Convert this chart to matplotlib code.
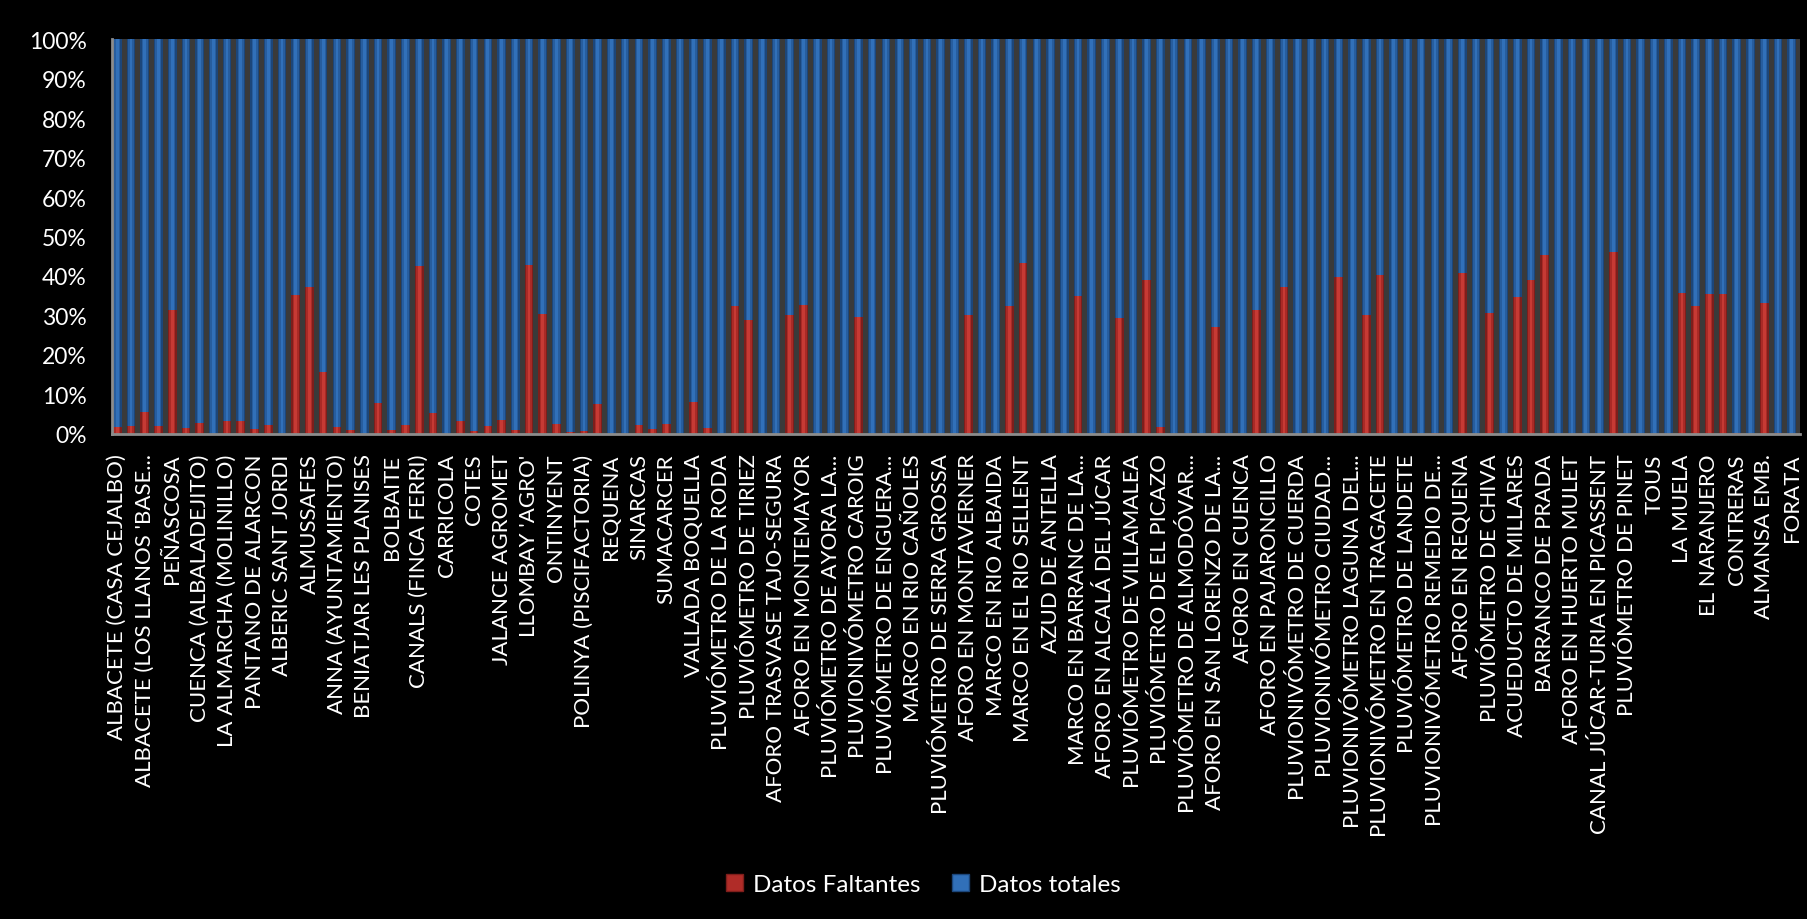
import matplotlib.pyplot as plt
from matplotlib.patches import Patch
from matplotlib.ticker import PercentFormatter
import numpy as np

# porcentaje de datos faltantes por estación (una barra por estación)
faltantes = [1.8, 2.0, 5.6, 1.9, 31.4, 1.5, 2.8, 0, 3.3, 3.3,
             1.3, 2.3, 0, 35.2, 37.2, 15.7, 1.8, 1.0, 0, 7.8,
             0.9, 2.3, 42.5, 5.3, 0, 3.3, 0.8, 2.0, 3.5, 0.9,
             42.9, 30.5, 2.5, 0.5, 0.8, 7.6, 0, 0, 2.3, 1.3,
             2.5, 0, 8.1, 1.5, 0, 32.5, 28.9, 0, 0, 30.2,
             32.7, 0, 0, 0, 29.7, 0, 0, 0, 0, 0,
             0, 0, 30.2, 0, 0, 32.4, 43.4, 0, 0, 0,
             34.9, 0, 0, 29.4, 0, 39.0, 1.8, 0, 0, 0,
             27.2, 0, 0, 31.4, 0, 37.3, 0, 0, 0, 39.8,
             0, 30.0, 40.3, 0, 0, 0, 0.3, 0, 40.8, 0,
             30.7, 0, 34.8, 39.0, 45.4, 0, 0, 0, 0, 46.1,
             0, 0, 0, 0, 35.7, 32.4, 35.4, 35.4, 0.3, 0,
             33.2, 0.3, 0]

# solo se rotula una de cada dos estaciones
etiquetas = [
    "ALBACETE (CASA CEJALBO)", "ALBACETE (LOS LLANOS 'BASE...", "PEÑASCOSA",
    "CUENCA (ALBALADEJITO)", "LA ALMARCHA (MOLINILLO)", "PANTANO DE ALARCON",
    "ALBERIC SANT JORDI", "ALMUSSAFES", "ANNA (AYUNTAMIENTO)",
    "BENIATJAR LES PLANISES", "BOLBAITE", "CANALS (FINCA FERRI)",
    "CARRICOLA", "COTES", "JALANCE AGROMET", "LLOMBAY 'AGRO'", "ONTINYENT",
    "POLINYA (PISCIFACTORIA)", "REQUENA", "SINARCAS", "SUMACARCER",
    "VALLADA BOQUELLA", "PLUVIÓMETRO DE LA RODA", "PLUVIÓMETRO DE TIRIEZ",
    "AFORO TRASVASE TAJO-SEGURA", "AFORO EN MONTEMAYOR",
    "PLUVIÓMETRO DE AYORA LA...", "PLUVIONIVÓMETRO CAROIG",
    "PLUVIÓMETRO DE ENGUERA...", "MARCO EN RIO CAÑOLES",
    "PLUVIÓMETRO DE SERRA GROSSA", "AFORO EN MONTAVERNER",
    "MARCO EN RIO ALBAIDA", "MARCO EN EL RIO SELLENT", "AZUD DE ANTELLA",
    "MARCO EN BARRANC DE LA...", "AFORO EN ALCALÁ DEL JÚCAR",
    "PLUVIÓMETRO DE VILLAMALEA", "PLUVIÓMETRO DE EL PICAZO",
    "PLUVIÓMETRO DE ALMODÓVAR...", "AFORO EN SAN LORENZO DE LA...",
    "AFORO EN CUENCA", "AFORO EN PAJARONCILLO", "PLUVIONIVÓMETRO DE CUERDA",
    "PLUVIONIVÓMETRO CIUDAD...", "PLUVIONIVÓMETRO LAGUNA DEL...",
    "PLUVIONIVÓMETRO EN TRAGACETE", "PLUVIÓMETRO DE LANDETE",
    "PLUVIONIVÓMETRO REMEDIO DE...", "AFORO EN REQUENA",
    "PLUVIÓMETRO DE CHIVA", "ACUEDUCTO DE MILLARES", "BARRANCO DE PRADA",
    "AFORO EN HUERTO MULET", "CANAL JÚCAR-TURIA EN PICASSENT",
    "PLUVIÓMETRO DE PINET", "TOUS", "LA MUELA", "EL NARANJERO", "CONTRERAS",
    "ALMANSA EMB.", "FORATA"]

faltantes = np.array(faltantes)
totales = 100 - faltantes
x = np.arange(len(faltantes))

plt.rcParams['font.family'] = ['Lato', 'DejaVu Sans']

fig = plt.figure(figsize=(18.07, 9.2), dpi=100, facecolor='black')
ax = fig.add_axes([0.0618, 0.5272, 0.9343, 0.4293])
ax.set_facecolor('#3a3a3a')

# barras con sombreado tipo cilindro: borde oscuro, centro mas claro
rojo = ['#7e1e1b', '#a92a26', '#c63a34']
azul = ['#1c467a', '#275d9e', '#3170b9']
for w, cr, cb in zip([0.63, 0.44, 0.2], rojo, azul):
    ax.bar(x, faltantes, w, color=cr, linewidth=0)
    ax.bar(x, totales, w, bottom=faltantes, color=cb, linewidth=0)

ax.set_xlim(-0.41, len(x) - 0.4)
ax.set_ylim(0, 100)
ax.yaxis.set_major_formatter(PercentFormatter(decimals=0))
ax.set_yticks(np.arange(0, 101, 10))
ax.tick_params(axis='y', length=0, pad=18, labelsize=16.5, labelcolor='white')
ax.set_xticks(x[::2])
ax.set_xticklabels(etiquetas, rotation=90)
ax.tick_params(axis='x', length=0, pad=14, labelsize=16, labelcolor='white')

for s in ['top', 'right']:
    ax.spines[s].set_visible(False)
for s in ['left', 'bottom']:
    ax.spines[s].set_color('#8c8c8c')
    ax.spines[s].set_linewidth(2)

handles = [Patch(facecolor='#b02c28', edgecolor='#7e1e1b', label='Datos Faltantes'),
           Patch(facecolor='#3170b9', edgecolor='#1c467a', label='Datos totales')]
leg = fig.legend(handles=handles, loc='center', bbox_to_anchor=(0.511, 0.038),
                 ncol=2, frameon=False, fontsize=17.5, handlelength=0.7,
                 handleheight=0.7, handletextpad=0.4, columnspacing=1.3)
for t in leg.get_texts():
    t.set_color('white')

fig.savefig('out.png', dpi=100, facecolor='black')
